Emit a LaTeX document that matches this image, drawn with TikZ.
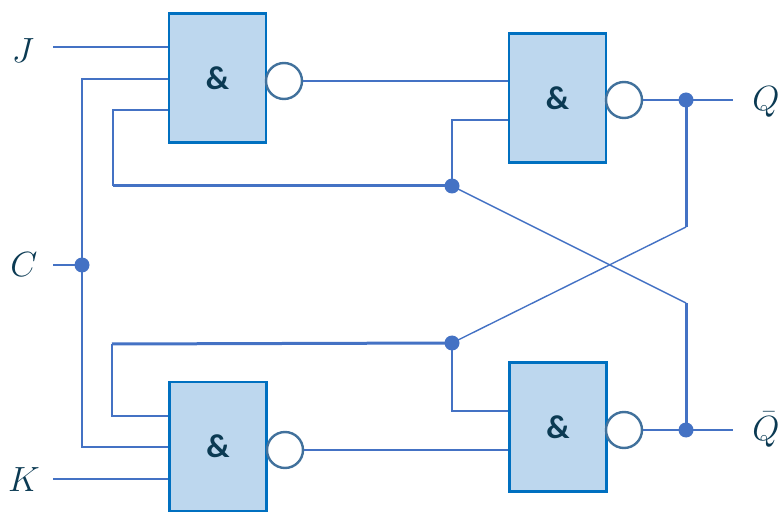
\RequirePackage{fix-cm}
\documentclass[tikz,border=0pt]{standalone}
\usepackage{fontspec}
\newfontfamily\ampfont{Carlito}
\definecolor{gatefill}{HTML}{BDD7EE}
\definecolor{gateline}{HTML}{0070C0}
\definecolor{bubbleline}{HTML}{41719C}
\definecolor{wirecol}{HTML}{4472C4}
\definecolor{textcol}{HTML}{0B3A53}

\begin{document}
\begin{tikzpicture}[x=1pt,y=-1pt,
  gate/.style={draw=gateline,line width=2.5pt,fill=gatefill,minimum width=97pt,minimum height=129pt,inner sep=0pt,text=textcol,font=\ampfont\bfseries\fontsize{33}{33}\selectfont},
  bubble/.style={circle,draw=bubbleline,line width=2.4pt,fill=white,minimum size=36pt,inner sep=0pt},
  wire/.style={draw=wirecol,line width=1.4pt},
  bus/.style={draw=wirecol,line width=3pt},
  dot/.style={circle,fill=wirecol,inner sep=0pt,minimum size=15pt},
  sig/.style={text=textcol,inner sep=0pt,font=\fontsize{35}{35}\selectfont}]
\useasboundingbox (0,0) rectangle (780,513);
% gates and bubbles
\node[gate] (g1) at (217.5,78) {\&};
\node[gate] (g2) at (557.5,98) {\&};
\node[gate] (g3) at (218,446.5) {\&};
\node[gate] (g4) at (558,427) {\&};
\node[bubble] (b1) at (284,81) {};
\node[bubble] (b2) at (624,100) {};
\node[bubble] (b3) at (285,450) {};
\node[bubble] (b4) at (624,430) {};
% signals
\node[sig] (J) at (23,51) {$J$};
\node[sig] (C) at (24,265) {$C$};
\node[sig] (K) at (24,480) {$K$};
\node[sig] (Q) at (766,102) {$Q$};
\node[sig] (Qb) at (766,430) {$\bar{Q}$};
\coordinate (jin) at (53,47);
\coordinate (kin) at (53,479);
\coordinate (cin) at (53,265);
\coordinate (cj) at (82,265);
\coordinate (fa) at (452,186);
\coordinate (fb) at (452,343);
\coordinate (fal) at (113,186);
\coordinate (fbl) at (112,344);
\coordinate (xa) at (686,303);
\coordinate (xb) at (686,227);
\coordinate (qj) at (686,100);
\coordinate (qbj) at (686,430);
\coordinate (qout) at (733,100);
\coordinate (qbout) at (733,430);
% inputs
\draw[wire] (jin) -- (jin -| g1.west);
\draw[wire] (kin) -- (kin -| g3.west);
\draw[wire] (cin) -- (cj);
\draw[wire] (g1.west |- 0,79) -| (cj) |- (g3.west |- 0,447);
% feedback
\draw[wire] (g1.west |- 0,110) -| (fal);
\draw[bus] (fal) -- (fa);
\draw[wire] (fa) |- (g2.west |- 0,120);
\draw[wire] (fa) -- (xa);
\draw[bus] (xa) -- (qbj);
\draw[wire] (g3.west |- 0,416) -| (fbl);
\draw[bus] (fbl) -- (fb);
\draw[wire] (fb) |- (g4.west |- 0,411);
\draw[wire] (fb) -- (xb);
\draw[bus] (xb) -- (qj);
% outputs
\draw[wire] (b1.east) -- (b1.east -| g2.west);
\draw[wire] (b3.east) -- (b3.east -| g4.west);
\draw[wire] (b2.east) -- (qout);
\draw[wire] (b4.east) -- (qbout);
% junctions
\node[dot] (cdot) at (cj) {};
\node[dot] (fadot) at (fa) {};
\node[dot] (fbdot) at (fb) {};
\node[dot] (qdot) at (qj) {};
\node[dot] (qbdot) at (qbj) {};
\end{tikzpicture}
\end{document}
